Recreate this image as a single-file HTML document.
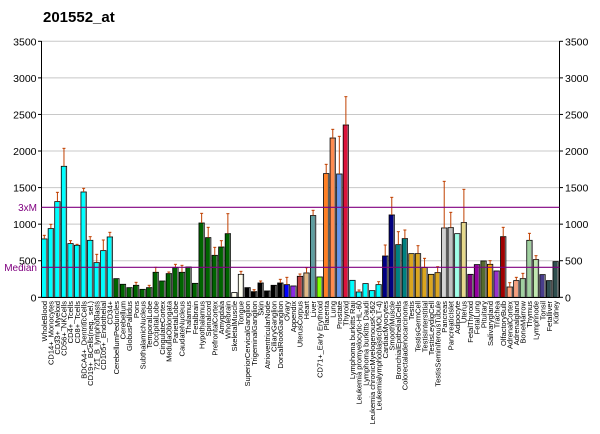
<!DOCTYPE html>
<html><head><meta charset="utf-8"><style>
body{margin:0;background:#fff;}
svg{display:block;font-family:"Liberation Sans",sans-serif;}
.lab{font-size:7.5px;fill:#000;}
</style></head><body>
<svg id="s" width="600" height="434" viewBox="0 0 600 434">
<text x="43" y="22" font-size="15" font-weight="bold">201552_at</text>
<g id="grid"></g>
<g id="bars"></g>
<line x1="41.5" y1="41" x2="41.5" y2="297.5" stroke="#000"/>
<line x1="559.5" y1="41" x2="559.5" y2="297.5" stroke="#000"/>
<line x1="41.5" y1="297.5" x2="559.5" y2="297.5" stroke="#000"/>
<line x1="41.5" y1="207.3" x2="559.5" y2="207.3" stroke="#800080" stroke-width="1.2"/>
<line x1="41.5" y1="267.3" x2="559.5" y2="267.3" stroke="#800080" stroke-width="1.2"/>
<text x="37" y="211" font-size="10" fill="#800080" text-anchor="end">3xM</text>
<text x="37" y="271" font-size="10" fill="#800080" text-anchor="end">Median</text>
<g id="ticks" font-size="10.5"></g>
<g class="lab" text-anchor="end">
<text transform="translate(47,301) rotate(-90)">WholeBlood</text>
<text transform="translate(53.6,301) rotate(-90)">CD14+_Monocytes</text>
<text transform="translate(60.1,301) rotate(-90)">CD33+_Myeloid</text>
<text transform="translate(66.7,301) rotate(-90)">CD56+_NKCells</text>
<text transform="translate(73.2,301) rotate(-90)">CD4+_Tcells</text>
<text transform="translate(79.8,301) rotate(-90)">CD8+_Tcells</text>
<text transform="translate(86.3,301) rotate(-90)">BDCA4+_DentriticCells</text>
<text transform="translate(92.9,301) rotate(-90)">CD19+_BCells(neg._sel.)</text>
<text transform="translate(99.4,301) rotate(-90)">721_B_lymphoblasts</text>
<text transform="translate(106,301) rotate(-90)">CD105+_Endothelial</text>
<text transform="translate(112.6,301) rotate(-90)">CD34+</text>
<text transform="translate(119.1,301) rotate(-90)">CerebellumPeduncles</text>
<text transform="translate(125.7,301) rotate(-90)">Cerebellum</text>
<text transform="translate(132.2,301) rotate(-90)">GlobusPallidus</text>
<text transform="translate(138.8,301) rotate(-90)">Pons</text>
<text transform="translate(145.3,301) rotate(-90)">SubthalamicNucleus</text>
<text transform="translate(151.9,301) rotate(-90)">TemporalLobe</text>
<text transform="translate(158.5,301) rotate(-90)">OccipitalLobe</text>
<text transform="translate(165,301) rotate(-90)">CingulateCortex</text>
<text transform="translate(171.6,301) rotate(-90)">MedullaOblongata</text>
<text transform="translate(178.1,301) rotate(-90)">ParietalLobe</text>
<text transform="translate(184.7,301) rotate(-90)">CaudateNucleus</text>
<text transform="translate(191.2,301) rotate(-90)">Thalamus</text>
<text transform="translate(197.8,301) rotate(-90)">Fetalbrain</text>
<text transform="translate(204.3,301) rotate(-90)">Hypothalamus</text>
<text transform="translate(210.9,301) rotate(-90)">Spinalcord</text>
<text transform="translate(217.5,301) rotate(-90)">PrefrontalCortex</text>
<text transform="translate(224,301) rotate(-90)">Amygdala</text>
<text transform="translate(230.6,301) rotate(-90)">Wholebrain</text>
<text transform="translate(237.1,301) rotate(-90)">SkeletalMuscle</text>
<text transform="translate(243.7,301) rotate(-90)">Tongue</text>
<text transform="translate(250.2,301) rotate(-90)">SuperiorCervicalGanglion</text>
<text transform="translate(256.8,301) rotate(-90)">TrigeminalGanglion</text>
<text transform="translate(263.4,301) rotate(-90)">Skin</text>
<text transform="translate(269.9,301) rotate(-90)">AtrioventricularNode</text>
<text transform="translate(276.5,301) rotate(-90)">CiliaryGanglion</text>
<text transform="translate(283,301) rotate(-90)">DorsalRootGanglion</text>
<text transform="translate(289.6,301) rotate(-90)">Ovary</text>
<text transform="translate(296.1,301) rotate(-90)">Appendix</text>
<text transform="translate(302.7,301) rotate(-90)">UterusCorpus</text>
<text transform="translate(309.2,301) rotate(-90)">Heart</text>
<text transform="translate(315.8,301) rotate(-90)">Liver</text>
<text transform="translate(322.4,301) rotate(-90)">CD71+_Early Erythroid</text>
<text transform="translate(328.9,301) rotate(-90)">Placenta</text>
<text transform="translate(335.5,301) rotate(-90)">Lung</text>
<text transform="translate(342,301) rotate(-90)">Prostate</text>
<text transform="translate(348.6,301) rotate(-90)">Thyroid</text>
<text transform="translate(355.1,301) rotate(-90)">Lymphoma burkitts Raji</text>
<text transform="translate(361.7,301) rotate(-90)">Leukemia promyelocytic-HL-60</text>
<text transform="translate(368.3,301) rotate(-90)">Lymphoma burkitts Daudi</text>
<text transform="translate(374.8,301) rotate(-90)">Leukemia chronicMyelogenousK-562</text>
<text transform="translate(381.4,301) rotate(-90)">Leukemialymphoblastic(MOLT-4)</text>
<text transform="translate(387.9,301) rotate(-90)">CardiacMyocytes</text>
<text transform="translate(394.5,301) rotate(-90)">SmoothMuscle</text>
<text transform="translate(401,301) rotate(-90)">BronchialEpithelialCells</text>
<text transform="translate(407.6,301) rotate(-90)">Colorectaladenocarcinoma</text>
<text transform="translate(414.2,301) rotate(-90)">Testis</text>
<text transform="translate(420.7,301) rotate(-90)">TestisGermCell</text>
<text transform="translate(427.3,301) rotate(-90)">TestisInterstitial</text>
<text transform="translate(433.8,301) rotate(-90)">TestisLeydigCell</text>
<text transform="translate(440.4,301) rotate(-90)">TestisSeminiferousTubule</text>
<text transform="translate(446.9,301) rotate(-90)">Pancreas</text>
<text transform="translate(453.5,301) rotate(-90)">PancreaticIslet</text>
<text transform="translate(460,301) rotate(-90)">Adipocyte</text>
<text transform="translate(466.6,301) rotate(-90)">Uterus</text>
<text transform="translate(473.2,301) rotate(-90)">FetalThyroid</text>
<text transform="translate(479.7,301) rotate(-90)">FetalLung</text>
<text transform="translate(486.3,301) rotate(-90)">Pituitary</text>
<text transform="translate(492.8,301) rotate(-90)">Salivarygland</text>
<text transform="translate(499.4,301) rotate(-90)">Trachea</text>
<text transform="translate(505.9,301) rotate(-90)">OlfactoryBulb</text>
<text transform="translate(512.5,301) rotate(-90)">AdrenalCortex</text>
<text transform="translate(519.1,301) rotate(-90)">Adrenalgland</text>
<text transform="translate(525.6,301) rotate(-90)">BoneMarrow</text>
<text transform="translate(532.2,301) rotate(-90)">Thymus</text>
<text transform="translate(538.7,301) rotate(-90)">Lymphnode</text>
<text transform="translate(545.3,301) rotate(-90)">Tonsil</text>
<text transform="translate(551.8,301) rotate(-90)">Fetalliver</text>
<text transform="translate(558.4,301) rotate(-90)">Kidney</text>
</g>
</svg>
<script>
var NS="http://www.w3.org/2000/svg";
function el(p,t,a){var e=document.createElementNS(NS,t);for(var k in a)e.setAttribute(k,a[k]);p.appendChild(e);return e;}
function Y(v){return 297.3-v*256/3500;}
var g=document.getElementById("grid"),tk=document.getElementById("ticks");
for(var v=0;v<=3500;v+=500){var y=Y(v);
 if(v>0)el(g,"line",{x1:41.5,x2:559.5,y1:y,y2:y,stroke:"#c8c8c8","stroke-width":1});
 el(tk,"line",{x1:38,x2:41.5,y1:y,y2:y,stroke:"#000"});
 el(tk,"line",{x1:559.5,x2:563,y1:y,y2:y,stroke:"#000"});
 var t=el(tk,"text",{x:36.5,y:y+4,"text-anchor":"end"});t.textContent=v;
 var t2=el(tk,"text",{x:565,y:y+4});t2.textContent=v;}
var C="#00ffff",G="#006400",K="#000000",GD="#daa520",LG="#a0d0a0";
var d=[[798,706,C],[939,673,C],[1308,577,C],[1791,445,C],[734,722,C],[711,733,C],[1440,565,C],[779,710,C],[474,763,C],[638,720,C],[825,697,C],
[255,0,G],[178,0,G],[132,0,G],[164,847,G],[109,0,G],[132,856,G],[342,802,G],[223,0,G],[324,816,G],[406,793,G],[342,796,G],[415,0,G],[191,0,G],[1016,640,G],[816,682,G],[574,742,G],[688,722,G],[870,641,G],
[64,0,"#fffff0"],[314,814,"#fffff0"],[132,0,K],[77,869,K],[196,843,K],[87,0,K],[164,0,K],[196,838,K],[173,832,"#0000ff"],[155,0,"#8a2be2"],
[287,822,"#c04040"],[333,803,"#deb887"],[1117,631,"#5f9ea0"],[278,0,"#7fff00"],[1691,493,"#ff7f24"],[2178,388,"#ff8c50"],[1686,409,"#6495ed"],[2356,290,"#dc143c"],
[232,0,C],[73,870,C],[187,0,C],[91,0,C],[173,845,C],[565,735,"#000080"],[1126,592,"#000080"],[720,695,"#008080"],[802,690,"#008080"],
[597,0,GD],[597,737,GD],[406,775,GD],[314,0,GD],[337,800,GD],[948,544,"#d3d3d3"],[952,637,"#c0c0c0"],[870,0,"#a0ffe8"],[1021,568,"#e6d98c"],
[314,0,"#800080"],[447,0,"#9400a0"],[497,0,"#556b2f"],[451,782,"#ffa500"],[360,0,"#9932cc"],[829,682,"#a00000"],[141,848,"#ffa07a"],[228,832,"#f4a080"],[255,820,LG],[779,700,LG],[515,767,"#c0e8b0"],[310,0,"#483d8b"],[228,0,"#2f4f4f"],[488,0,"#2f4f4f"]];
var b=document.getElementById("bars");
d.forEach(function(r,i){var x=44.3+i*6.556,y=Y(r[0]);
 el(b,"rect",{x:x-2.7,y:y,width:5.4,height:297.3-y,fill:r[1]===-1?"":r[2],stroke:"#000","stroke-width":0.8});
 el(b,"rect",{x:x+1.6,y:y+0.5,width:0.9,height:296.8-y,fill:"#808080"});
 if(r[1]>0){var ey=r[1]/3;
  el(b,"line",{x1:x,x2:x,y1:ey,y2:y,stroke:"#c04000","stroke-width":1});
  el(b,"line",{x1:x-1.5,x2:x+1.5,y1:ey,y2:ey,stroke:"#c04000","stroke-width":1});}
});
</script>
</body></html>
